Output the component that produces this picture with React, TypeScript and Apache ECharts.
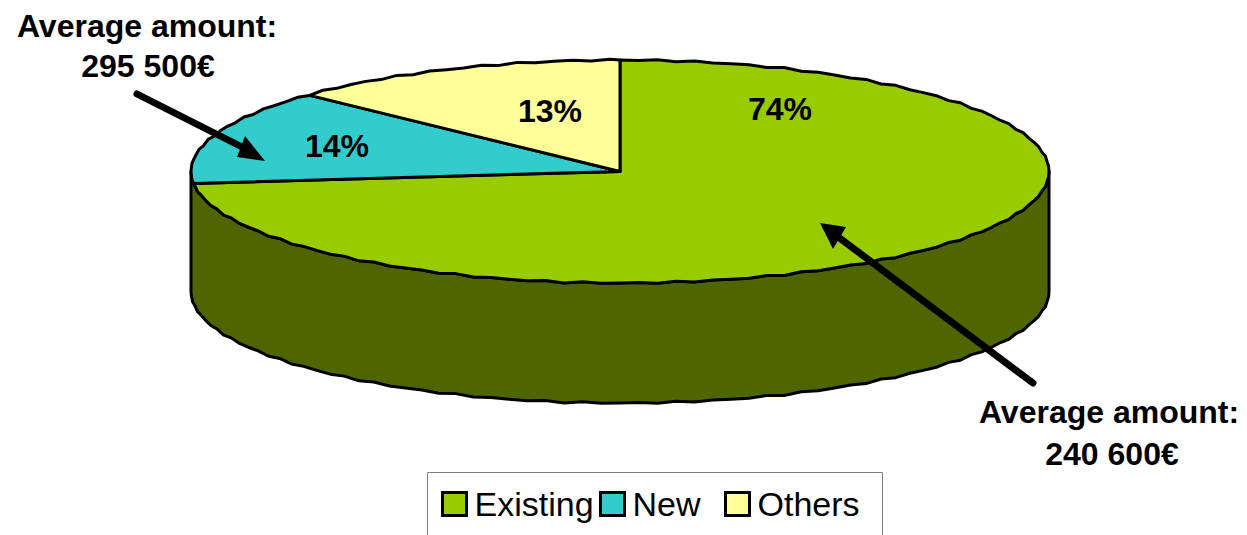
import React, { useEffect, useRef } from "react";
import * as echarts from "echarts";

const categories = ["Existing", "New", "Others"];
const shares = [74, 14, 13];
const sliceColors = ["#99CC00", "#33CCCC", "#FFFF99"];
const wallColor = "#4F6600";
const calloutLines = [
  ["Average amount:", "295 500€"],
  ["Average amount:", "240 600€"],
];

const FONT = "'Liberation Sans', Arial, sans-serif";
const W = 1247;
const H = 535;

// Projected pie geometry
const CX = 620;
const CY = 171.5;
const RX = 429;
const RY = 111.5;
const DEPTH = 120;
const STEP = 2.5;
// The outline ripples slightly, as the drawn edge does
const RIPPLE = 0.9;
const RIPPLE_PERIOD = 6;

// Rim point at a clockwise angle from twelve o'clock
const rim = (deg: number, dy = 0): number[] => {
  const t = (deg * Math.PI) / 180;
  const w = (deg * 2 * Math.PI) / RIPPLE_PERIOD;
  return [
    CX + RX * Math.sin(t),
    CY - RY * Math.cos(t) + RIPPLE * Math.sin(w) + dy,
  ];
};

const arc = (from: number, to: number, dy = 0): number[][] => {
  const pts: number[][] = [];
  for (let a = from; a < to; a += STEP) pts.push(rim(a, dy));
  pts.push(rim(to, dy));
  return pts;
};

const total = shares.reduce((s, v) => s + v, 0);
const startAngle = (i: number) =>
  (shares.slice(0, i).reduce((s, v) => s + v, 0) / total) * 360;

const labelAnchors = [
  [780, 109],
  [337, 146],
  [550, 111],
];
const edge = { stroke: "#000", lineWidth: 3, lineJoin: "round" as const };

const makeSlice = (i: number) => ({
  type: "custom" as const,
  name: categories[i],
  coordinateSystem: "none" as const,
  silent: true,
  clip: false,
  itemStyle: { color: sliceColors[i] },
  data: [shares[i]],
  renderItem: () => {
    const from = startAngle(i);
    const to = from + (shares[i] / total) * 360;
    return {
      type: "group",
      children: [
        {
          type: "polygon",
          shape: { points: [[CX, CY], ...arc(from, to)] },
          style: { fill: sliceColors[i], ...edge },
        },
        {
          type: "text",
          x: labelAnchors[i][0],
          y: labelAnchors[i][1],
          z2: 5,
          style: {
            text: `${shares[i]}%`,
            fontFamily: FONT,
            fontWeight: "bold",
            fontSize: 32,
            fill: "#000",
            textAlign: "center",
            textVerticalAlign: "middle",
          },
        },
      ],
    };
  },
});

const wallSeries = {
  type: "custom" as const,
  name: "wall",
  coordinateSystem: "none" as const,
  silent: true,
  clip: false,
  data: [total],
  renderItem: () => ({
    type: "polygon",
    shape: { points: [...arc(90, 270), ...arc(90, 270, DEPTH).reverse()] },
    style: { fill: wallColor, ...edge },
  }),
};

const legendAt = (i: number, left: number) => ({
  data: [categories[i]],
  left,
  top: 487,
  padding: 0,
  itemWidth: 24,
  itemHeight: 23,
  icon: "rect",
  selectedMode: false,
  itemStyle: { borderColor: "#000", borderWidth: 3 },
  textStyle: {
    fontFamily: FONT,
    fontSize: 34,
    color: "#000",
    padding: [0, 0, 8, 3],
  },
});

const calloutText = (text: string, x: number, y: number) => ({
  type: "text",
  x,
  y,
  z: 20,
  style: {
    text,
    fontFamily: FONT,
    fontWeight: "bold",
    fontSize: 32,
    fill: "#000",
    align: "center",
    verticalAlign: "middle",
  },
});

const arrow = (
  start: number[],
  end: number[],
  headA: number[],
  headB: number[]
) => [
  {
    type: "line",
    z: 20,
    shape: { x1: start[0], y1: start[1], x2: (headA[0] + headB[0]) / 2, y2: (headA[1] + headB[1]) / 2 },
    style: { stroke: "#000", lineWidth: 7, lineCap: "round" },
  },
  {
    type: "polygon",
    z: 20,
    shape: { points: [end, headA, headB] },
    style: { fill: "#000" },
  },
];

export default function App() {
  const ref = useRef<HTMLDivElement>(null);

  useEffect(() => {
    document.body.style.margin = "0";
    const chart = echarts.init(ref.current!, undefined, { renderer: "svg" });
    chart.setOption({
      animation: false,
      backgroundColor: "#fff",
      legend: [legendAt(0, 441), legendAt(1, 599), legendAt(2, 724)],
      series: [wallSeries, ...categories.map((_, i) => makeSlice(i))],
      graphic: [
        {
          type: "rect",
          z: -1,
          shape: { x: 427.5, y: 472.5, width: 455, height: 80 },
          style: { fill: "#fff", stroke: "#808080", lineWidth: 1 },
        },
        calloutText(calloutLines[0][0], 147, 26),
        calloutText(calloutLines[0][1], 148, 66),
        calloutText(calloutLines[1][0], 1109, 412),
        calloutText(calloutLines[1][1], 1112, 454),
        ...arrow([137, 94], [265, 161], [245, 136], [237, 157]),
        ...arrow([1033, 383], [820, 223], [846, 227], [833, 249]),
      ],
    });
    return () => chart.dispose();
  }, []);

  return (
    <div
      ref={ref}
      style={{ position: "fixed", left: 0, top: 0, width: W, height: H }}
    />
  );
}
